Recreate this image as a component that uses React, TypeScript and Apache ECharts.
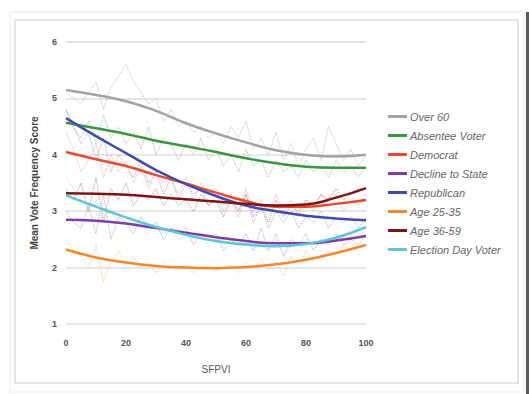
import React, { useEffect, useRef } from "react";
import * as echarts from "echarts";

const seriesNames = [
  "Over 60",
  "Absentee Voter",
  "Democrat",
  "Decline to State",
  "Republican",
  "Age 25-35",
  "Age 36-59",
  "Election Day Voter",
];
const colors = ["#a3a3a3", "#3a9440", "#e84a30", "#7d3fa6", "#3f4bb0", "#f0882e", "#7c1616", "#5ec6d6"];
const rawColors = ["#b8b8b8", "#8cbf8c", "#f0a090", "#b797cc", "#9aa0d6", "#f5bf8c", "#b88080", "#a6dde6"];

// trend (fitted) lines at SFPVI = 0,10,...,100
const trendX = [0, 10, 20, 30, 40, 50, 60, 70, 80, 90, 100];
const over60 = [5.15, 5.06, 4.95, 4.78, 4.56, 4.38, 4.22, 4.08, 4.0, 3.97, 4.0];
const absentee = [4.57, 4.47, 4.37, 4.25, 4.15, 4.05, 3.94, 3.85, 3.79, 3.77, 3.77];
const democrat = [4.05, 3.92, 3.8, 3.64, 3.49, 3.33, 3.18, 3.08, 3.08, 3.13, 3.2];
const decline = [2.85, 2.83, 2.78, 2.7, 2.62, 2.54, 2.47, 2.43, 2.43, 2.48, 2.56];
const republican = [4.65, 4.33, 4.03, 3.73, 3.48, 3.27, 3.1, 3.0, 2.92, 2.87, 2.84];
const age2535 = [2.32, 2.18, 2.09, 2.03, 2.0, 1.99, 2.01, 2.06, 2.14, 2.26, 2.4];
const age3659 = [3.32, 3.31, 3.29, 3.25, 3.21, 3.17, 3.13, 3.1, 3.12, 3.24, 3.41];
const electionDay = [3.28, 3.08, 2.89, 2.72, 2.58, 2.47, 2.41, 2.38, 2.42, 2.53, 2.72];

// raw (observed) values at SFPVI = 0, 2.5, ..., 100
const rawX = [0, 2.5, 5, 7.5, 10, 12.5, 15, 17.5, 20, 22.5, 25, 27.5, 30, 32.5, 35, 37.5, 40, 42.5, 45, 47.5, 50, 52.5, 55, 57.5, 60, 62.5, 65, 67.5, 70, 72.5, 75, 77.5, 80, 82.5, 85, 87.5, 90, 92.5, 95, 97.5, 100];
const rawOver60 = [5.1, 5.0, 4.9, 5.1, 5.3, 4.8, 5.2, 5.4, 5.6, 5.3, 5.1, 4.9, 5.0, 4.6, 4.8, 4.5, 4.6, 4.4, 4.5, 4.3, 4.4, 4.2, 4.5, 4.3, 4.6, 4.1, 4.3, 4.0, 4.4, 3.9, 4.2, 3.8, 4.1, 4.3, 3.9, 4.5, 4.2, 3.9, 4.1, 3.8, 4.0];
const rawAbsentee = [4.8, 4.5, 4.3, 4.6, 4.2, 4.7, 4.3, 4.5, 4.2, 4.4, 4.1, 4.5, 4.0, 4.3, 4.2, 3.9, 4.2, 4.0, 4.3, 3.9, 4.1, 3.8, 4.0, 3.7, 4.1, 3.8, 3.9, 3.6, 3.9, 3.7, 3.8, 3.6, 3.9, 3.7, 3.8, 3.6, 3.9, 3.7, 3.8, 3.6, 3.8];
const rawDemocrat = [4.4, 4.1, 3.7, 3.9, 4.2, 3.6, 4.0, 3.7, 3.9, 3.5, 3.8, 3.4, 3.7, 3.5, 3.6, 3.3, 3.6, 3.2, 3.5, 3.3, 3.4, 3.1, 3.3, 3.0, 3.4, 3.0, 3.2, 2.9, 3.3, 3.0, 3.2, 2.9, 3.2, 3.0, 3.3, 3.1, 3.3, 3.0, 3.2, 3.1, 3.3];
const rawDecline = [3.0, 2.8, 2.7, 3.1, 2.6, 3.3, 2.5, 2.9, 2.8, 2.6, 2.9, 2.7, 2.8, 2.5, 2.7, 2.6, 2.7, 2.4, 2.6, 2.5, 2.6, 2.3, 2.5, 2.4, 2.6, 2.3, 2.7, 2.3, 2.6, 2.2, 2.5, 2.4, 2.6, 2.3, 2.5, 2.4, 2.6, 2.4, 2.5, 2.4, 2.6];
const rawRepublican = [4.8, 4.5, 4.2, 4.4, 3.9, 4.3, 3.7, 4.0, 3.8, 3.6, 3.9, 3.5, 3.7, 3.3, 3.6, 3.2, 3.5, 3.3, 3.4, 3.1, 3.3, 3.0, 3.2, 2.9, 3.3, 2.8, 3.1, 2.7, 3.0, 2.8, 3.0, 2.7, 2.9, 2.8, 3.0, 2.7, 2.9, 2.8, 2.9, 2.7, 2.9];
const rawAge2535 = [2.5, 2.3, 2.2, 2.0, 2.4, 1.75, 2.1, 2.3, 2.0, 2.2, 2.0, 2.1, 1.9, 2.1, 2.0, 1.95, 2.05, 1.9, 2.0, 2.05, 1.95, 2.0, 2.05, 1.9, 2.1, 2.0, 2.15, 1.95, 2.1, 1.85, 2.2, 2.0, 2.3, 2.1, 2.2, 2.3, 2.2, 2.4, 2.3, 2.35, 2.4];
const rawAge3659 = [3.4, 3.2, 3.5, 3.0, 3.6, 2.8, 3.4, 3.2, 3.5, 3.1, 3.3, 3.2, 3.4, 3.1, 3.3, 3.1, 3.2, 3.0, 3.3, 3.1, 3.2, 2.9, 3.2, 3.0, 3.3, 2.9, 3.1, 2.8, 3.2, 2.9, 3.1, 3.0, 3.2, 3.1, 3.3, 3.2, 3.4, 3.2, 3.3, 3.4, 3.4];
const rawElectionDay = [3.6, 3.4, 3.2, 3.0, 3.2, 2.9, 3.0, 2.8, 2.9, 2.7, 2.9, 2.6, 2.8, 2.6, 2.7, 2.5, 2.6, 2.5, 2.6, 2.4, 2.5, 2.4, 2.5, 2.3, 2.5, 2.3, 2.4, 2.3, 2.5, 2.2, 2.4, 2.3, 2.5, 2.4, 2.5, 2.5, 2.6, 2.5, 2.7, 2.6, 2.7];

const yTicks = [1, 2, 3, 4, 5, 6];
const xTicks = [0, 20, 40, 60, 80, 100];

const trends = [over60, absentee, democrat, decline, republican, age2535, age3659, electionDay];
const raws = [rawOver60, rawAbsentee, rawDemocrat, rawDecline, rawRepublican, rawAge2535, rawAge3659, rawElectionDay];

const FONT = "Liberation Sans, Arial, sans-serif";

export default function App() {
  const ref = useRef<HTMLDivElement>(null);
  useEffect(() => {
    if (!ref.current) return;
    const chart = echarts.init(ref.current, undefined, { renderer: "svg" });
    const rawSeries = raws.map((arr, i) => ({
      type: "line",
      name: "raw-" + seriesNames[i],
      data: arr.map((v, j) => [rawX[j], v]),
      showSymbol: false,
      silent: true,
      z: 1,
      lineStyle: { color: rawColors[i], width: 1, type: "dotted", opacity: 0.9 },
      itemStyle: { color: rawColors[i] },
    }));
    const trendSeries = trends.map((arr, i) => ({
      type: "line",
      name: seriesNames[i],
      data: arr.map((v, j) => [trendX[j], v]),
      smooth: 0.5,
      showSymbol: false,
      z: 3,
      lineStyle: { color: colors[i], width: 2.5 },
      itemStyle: { color: colors[i] },
    }));
    chart.setOption({
      animation: false,
      backgroundColor: "#ffffff",
      grid: { left: 66, right: 163, top: 42, bottom: 70, containLabel: false },
      xAxis: {
        type: "value",
        min: 0,
        max: 100,
        interval: 20,
        name: "SFPVI",
        nameLocation: "middle",
        nameGap: 40,
        nameTextStyle: { fontFamily: FONT, fontSize: 10, color: "#555" },
        axisLine: { show: false },
        axisTick: { show: false },
        splitLine: { show: false },
        axisLabel: {
          fontFamily: FONT,
          fontSize: 9,
          fontWeight: "bold",
          color: "#555",
          margin: 14,
          formatter: (v: number) => (xTicks.includes(v) ? String(v) : ""),
        },
      },
      yAxis: {
        type: "value",
        min: 1,
        max: 6,
        interval: 1,
        name: "Mean Vote Frequency Score",
        nameLocation: "middle",
        nameGap: 27,
        nameTextStyle: { fontFamily: FONT, fontSize: 10, fontWeight: "bold", color: "#444" },
        axisLine: { show: false },
        axisTick: { show: false },
        splitLine: { lineStyle: { color: "#e6e6e6", width: 2 } },
        axisLabel: {
          fontFamily: FONT,
          fontSize: 9,
          fontWeight: "bold",
          color: "#555",
          margin: 9,
          formatter: (v: number) => (yTicks.includes(v) ? String(v) : ""),
        },
      },
      legend: {
        orient: "vertical",
        left: 388,
        top: 110,
        padding: 0,
        itemGap: 6,
        itemWidth: 19,
        itemHeight: 3,
        icon: "rect",
        data: seriesNames,
        textStyle: {
          fontFamily: FONT,
          fontSize: 11,
          fontStyle: "italic",
          color: "#666",
          lineHeight: 13,
          padding: [0, 0, 0, -2],
        },
      },
      graphic: [
        { type: "rect", shape: { x: 10, y: 12, width: 514, height: 380 }, style: { fill: "none", stroke: "#ececec", lineWidth: 1 }, silent: true },
        { type: "rect", shape: { x: 15, y: 20, width: 503, height: 363 }, style: { fill: "none", stroke: "#dcdcdc", lineWidth: 1.5 }, silent: true },
        { type: "rect", shape: { x: 526, y: 12, width: 3, height: 382 }, style: { fill: "#5a5a5a" }, silent: true },
      ],
      series: [...rawSeries, ...trendSeries],
    });
    return () => chart.dispose();
  }, []);
  return (
    <div
      ref={ref}
      style={{ position: "fixed", left: 0, top: 0, width: 529, height: 394, background: "#fff" }}
    />
  );
}
